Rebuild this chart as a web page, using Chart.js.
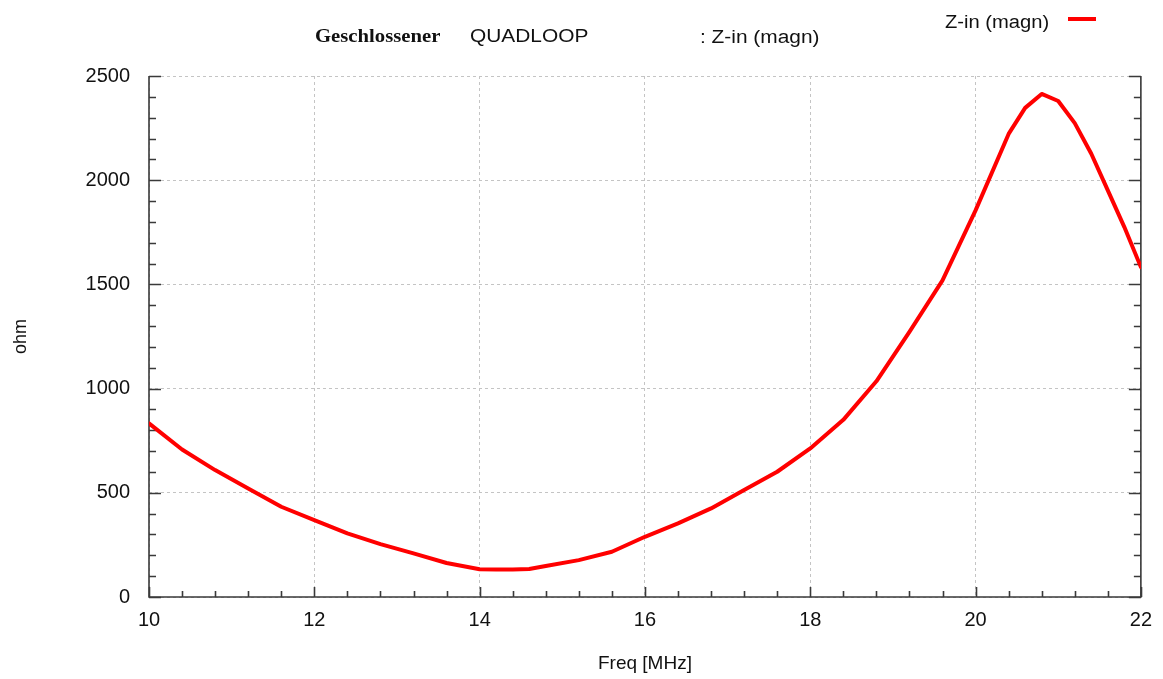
<!DOCTYPE html>
<html>
<head>
<meta charset="utf-8">
<script src="https://cdn.jsdelivr.net/npm/chart.js@4/dist/chart.umd.min.js"></script>
<style>
  html, body { margin: 0; padding: 0; background: #ffffff; }
  #wrap { position: relative; width: 1163px; height: 679px; overflow: hidden; }
  #c { position: absolute; left: 0; top: 0; }
  .t { position: absolute; white-space: nowrap; color: #111; transform-origin: 0 50%; line-height: 1; }
  .arial { font-family: "Liberation Sans", Arial, sans-serif; font-size: 18px; }
  .times { font-family: "Liberation Serif", "Times New Roman", serif; font-size: 18px; font-weight: bold; }
  #legLine { position: absolute; left: 1068px; top: 17px; width: 28px; height: 4px; background: #ff0000; }
</style>
</head>
<body>
<div id="wrap">
  <canvas id="c" width="1163" height="679"></canvas>
  <div class="t times" style="left:315px; top:27px; transform:scaleX(1.15);">Geschlossener</div>
  <div class="t arial" style="left:470px; top:27px; transform:scaleX(1.16);">QUADLOOP</div>
  <div class="t arial" style="left:700px; top:28px; transform:scaleX(1.16);">: Z-in (magn)</div>
  <div class="t arial" style="left:945px; top:13px; transform:scaleX(1.12);">Z-in (magn)</div>
  <div id="legLine"></div>
</div>
<script>
// ---- data ----
const freqMHz = [10.0, 10.4, 10.8, 11.2, 11.6, 12.0, 12.4, 12.8, 13.2, 13.6, 14.0, 14.2, 14.4, 14.6, 14.8,
                 15.2, 15.6, 16.0, 16.4, 16.8, 17.2, 17.6, 18.0, 18.4, 18.8, 19.2, 19.6, 20.0, 20.4, 20.6,
                 20.8, 21.0, 21.2, 21.4, 21.6, 21.8, 22.0];
const zinOhm  = [833, 708, 609, 521, 433, 369, 305, 254, 209, 163, 133, 132, 132, 134, 149,
                 177, 217, 289, 353, 425, 513, 601, 713, 850, 1035, 1272, 1519, 1855, 2222, 2347,
                 2414, 2380, 2274, 2127, 1951, 1775, 1583];
const xTickLabels = [10, 12, 14, 16, 18, 20, 22];
const yTickLabels = [0, 500, 1000, 1500, 2000, 2500];
const seriesName = 'Z-in (magn)';

const points = freqMHz.map((f, i) => ({ x: f, y: zinOhm[i] }));

const axisPlugin = {
  id: 'gnuAxes',
  beforeDatasetsDraw(chart) {
    const { ctx, chartArea: a, scales: { x, y } } = chart;
    ctx.save();
    ctx.strokeStyle = '#3a3a3a';
    ctx.lineWidth = 1.6;
    ctx.setLineDash([]);
    ctx.beginPath();
    ctx.moveTo(a.left, a.top); ctx.lineTo(a.left, a.bottom); ctx.lineTo(a.right, a.bottom); ctx.lineTo(a.right, a.top);
    ctx.stroke();
    ctx.beginPath();
    for (let v = y.min; v <= y.max + 1e-6; v += 100) {
      const py = Math.round(y.getPixelForValue(v)) + 0.5;
      const major = Math.abs(v % 500) < 1e-6;
      const len = major ? 12 : 7;
      ctx.moveTo(a.left, py); ctx.lineTo(a.left + len, py);
      ctx.moveTo(a.right, py); ctx.lineTo(a.right - len, py);
    }
    for (let k = 0; k <= 30; k++) {
      const v = x.min + k * 0.4;
      if (v > x.max + 1e-6) break;
      const px = Math.round(x.getPixelForValue(v)) + 0.5;
      const major = k % 5 === 0;
      const len = major ? 10 : 6;
      ctx.moveTo(px, a.bottom); ctx.lineTo(px, a.bottom - len);
    }
    ctx.stroke();
    ctx.restore();
  }
};

new Chart(document.getElementById('c'), {
  type: 'line',
  data: {
    datasets: [{
      label: seriesName,
      data: points,
      borderColor: '#ff0000',
      backgroundColor: '#ff0000',
      borderWidth: 4,
      pointRadius: 0,
      tension: 0,
      fill: false,
      borderJoinStyle: 'round',
      borderCapStyle: 'round'
    }]
  },
  options: {
    responsive: false,
    animation: false,
    layout: { padding: { top: 76, right: 22, left: 0, bottom: 0 } },
    plugins: { legend: { display: false }, tooltip: { enabled: false }, title: { display: false } },
    scales: {
      x: {
        type: 'linear',
        min: 10, max: 22,
        afterBuildTicks: s => { s.ticks = xTickLabels.map(v => ({ value: v })); },
        afterFit: s => { s.height = 82; },
        ticks: { color: '#111', font: { family: 'Liberation Sans, Arial', size: 20 }, padding: 11, maxRotation: 0,
                 callback: v => String(v) },
        grid: { color: '#c4c4c4', lineWidth: 1, drawTicks: false },
        border: { display: false, dash: [3, 3] },
        title: { display: true, text: 'Freq [MHz]', color: '#111', font: { family: 'Liberation Sans, Arial', size: 19 }, padding: { top: 12 } }
      },
      y: {
        type: 'linear',
        min: 0, max: 2500,
        afterBuildTicks: s => { s.ticks = yTickLabels.map(v => ({ value: v })); },
        afterFit: s => { s.width = 149; },
        ticks: { color: '#111', font: { family: 'Liberation Sans, Arial', size: 20 }, padding: 19,
                 callback: v => String(v) },
        grid: { color: '#c4c4c4', lineWidth: 1, drawTicks: false },
        border: { display: false, dash: [3, 3] },
        title: { display: true, text: 'ohm', color: '#111', font: { family: 'Liberation Sans, Arial', size: 18 }, padding: { top: 10, bottom: 0 } }
      }
    }
  },
  plugins: [axisPlugin]
});
</script>
</body>
</html>
